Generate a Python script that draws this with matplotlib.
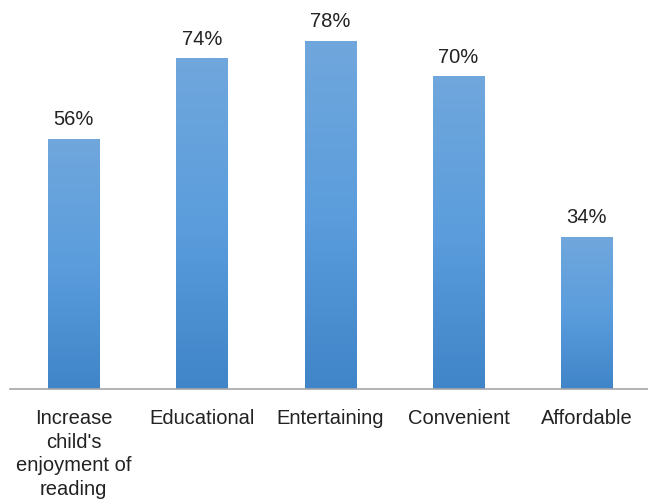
import matplotlib
matplotlib.use("Agg")
import matplotlib.pyplot as plt
import numpy as np
from matplotlib.colors import LinearSegmentedColormap

categories = ["Increase\nchild's\nenjoyment of\nreading", "Educational", "Entertaining", "Convenient", "Affordable"]
values = [56, 74, 78, 70, 34]
labels = ["56%", "74%", "78%", "70%", "34%"]

plt.rcParams['font.family'] = ['Liberation Sans', 'DejaVu Sans']

fig = plt.figure(figsize=(6.48, 5.02), dpi=100)
ax = fig.add_axes([9.5/648, 112/502, 641.5/648, 390/502])
ax.set_xlim(-0.5, 4.5)
ax.set_ylim(0, 390/4.467)

bars = ax.bar(range(len(values)), values, width=0.4, color="none", edgecolor="none")
grad = np.linspace(0, 1, 256).reshape(-1, 1)
cmap = LinearSegmentedColormap.from_list("g", ["#4085c8", "#5b9ddd", "#70a7dc"])
for b in bars:
    x0, y0 = b.get_x(), b.get_y()
    w, h = b.get_width(), b.get_height()
    im = ax.imshow(grad, extent=[x0, x0 + w, y0, y0 + h], origin="lower", cmap=cmap,
                   aspect="auto", zorder=2)
    im.set_clip_path(b)

for i, (v, t) in enumerate(zip(values, labels)):
    ax.text(i, v + 2.4, t, ha="center", va="bottom", fontsize=14.5, color="#222222")

for s in ["top", "right", "left"]:
    ax.spines[s].set_visible(False)
ax.spines["bottom"].set_color("#a6a6a6")
ax.spines["bottom"].set_linewidth(1.2)
ax.set_yticks([])
ax.set_xticks(range(len(categories)))
ax.set_xticklabels(categories, fontsize=14.5, color="#222222", linespacing=1.3)
ax.tick_params(axis="x", length=0, pad=14)
ax.set_xlim(-0.5, 4.5)
fig.savefig("out.png", dpi=100)
